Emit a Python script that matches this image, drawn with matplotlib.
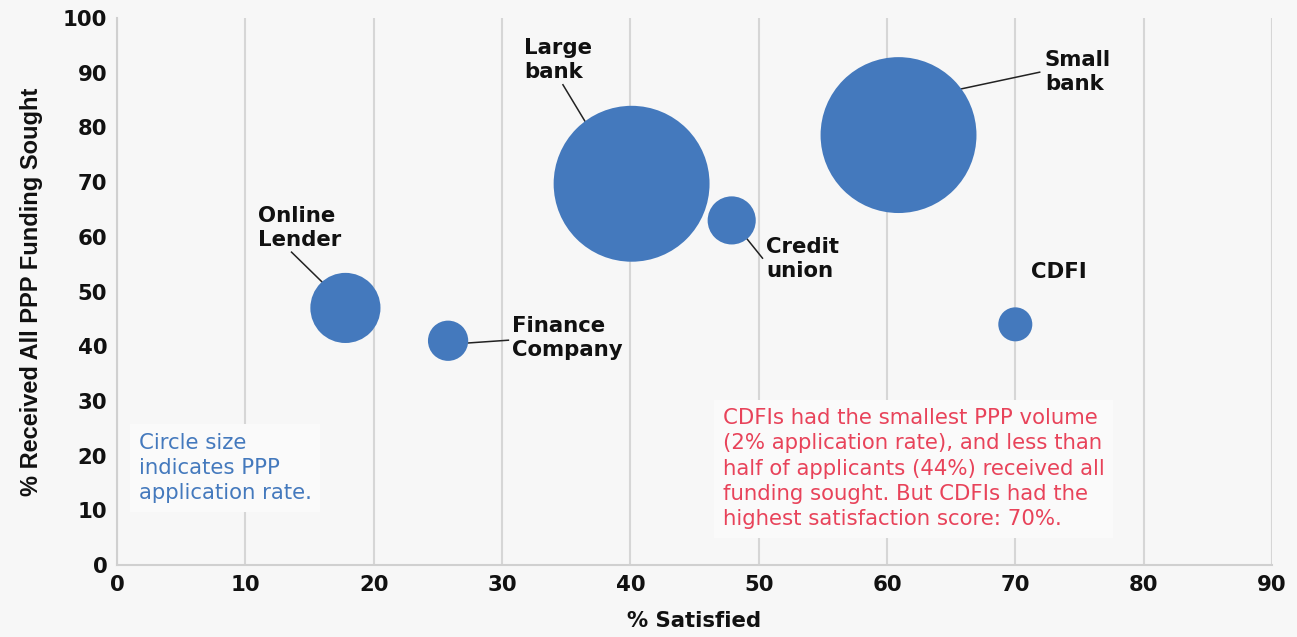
import numpy as np
import matplotlib.pyplot as plt

# datos
lenders = ['Online\nLender', 'Finance\nCompany', 'Large\nbank', 'Credit\nunion', 'Small\nbank', 'CDFI']
satisfied = [17.8, 25.8, 40.1, 47.9, 60.9, 70.0]
received_all = [47.0, 41.0, 69.7, 63.0, 78.6, 44.0]
app_rate = [8.5, 2.8, 42.0, 4.0, 42.0, 2.0]

# posiciones de etiquetas (x, y) y lineas guia (inicio, fin)
label_pos = [(11.0, 61.6), (30.8, 41.5), (31.7, 92.3), (50.6, 55.9), (72.3, 90.1), (71.2, 53.6)]
leaders = [((13.6, 57.2), (16.0, 51.7)),
           ((27.4, 40.6), (30.5, 41.1)),
           ((34.75, 87.8), (36.5, 81.0)),
           ((49.1, 59.6), (50.3, 56.1)),
           ((65.7, 87.0), (71.9, 90.1)),
           None]

bg = '#f7f7f7'
blue = '#4479bd'
red = '#e8435a'
font = 'DejaVu Sans'
fs = 15.3

fig = plt.figure(figsize=(12.97, 6.37), dpi=100, facecolor=bg)
ax = fig.add_axes([0.0902, 0.113, 0.8905, 0.8587], facecolor=bg)

sizes = np.array(app_rate) * 300
ax.scatter(satisfied, received_all, s=sizes, color=blue, edgecolors='none', zorder=3)

for name, (tx, ty), ld in zip(lenders, label_pos, leaders):
    ax.text(tx, ty, name, ha='left', va='center', fontsize=fs, fontweight='bold',
            family=font, color='#111111', linespacing=1.28, zorder=4)
    if ld is not None:
        (x0, y0), (x1, y1) = ld
        ax.plot([x0, x1], [y0, y1], color='#222222', lw=1.1, zorder=2)

# cuadros de texto
ax.text(1.7, 17.7, 'Circle size\nindicates PPP\napplication rate.', ha='left', va='center',
        fontsize=fs, family=font, color=blue, linespacing=1.33, zorder=4,
        bbox=dict(boxstyle='square,pad=0.4', facecolor='#fafafa', edgecolor='none'))
ax.text(47.2, 17.6, 'CDFIs had the smallest PPP volume\n(2% application rate), and less than\n'
        'half of applicants (44%) received all\nfunding sought. But CDFIs had the\n'
        'highest satisfaction score: 70%.', ha='left', va='center',
        fontsize=fs, family=font, color=red, linespacing=1.33, zorder=4,
        bbox=dict(boxstyle='square,pad=0.4', facecolor='#fafafa', edgecolor='none'))

ax.set_xlim(0, 90)
ax.set_ylim(0, 100)
ax.set_xticks(np.arange(0, 91, 10))
ax.set_yticks(np.arange(0, 101, 10))
ax.xaxis.grid(True, color='#d6d6d6', lw=1.5, zorder=0)
ax.set_axisbelow(True)
ax.tick_params(length=0, pad=7)
for lab in ax.get_xticklabels() + ax.get_yticklabels():
    lab.set_fontsize(fs)
    lab.set_fontweight('bold')
    lab.set_family(font)
    lab.set_color('#111111')

for side in ['top', 'right']:
    ax.spines[side].set_visible(False)
for side in ['left', 'bottom']:
    ax.spines[side].set_color('#d0d0d0')
    ax.spines[side].set_linewidth(1.5)

ax.set_xlabel('% Satisfied', fontsize=fs, fontweight='bold', family=font,
              color='#111111', labelpad=12)
ax.set_ylabel('% Received All PPP Funding Sought', fontsize=17, fontweight='bold',
              family='Liberation Sans', color='#111111', labelpad=14)

fig.savefig('out.png', dpi=100, facecolor=bg)
